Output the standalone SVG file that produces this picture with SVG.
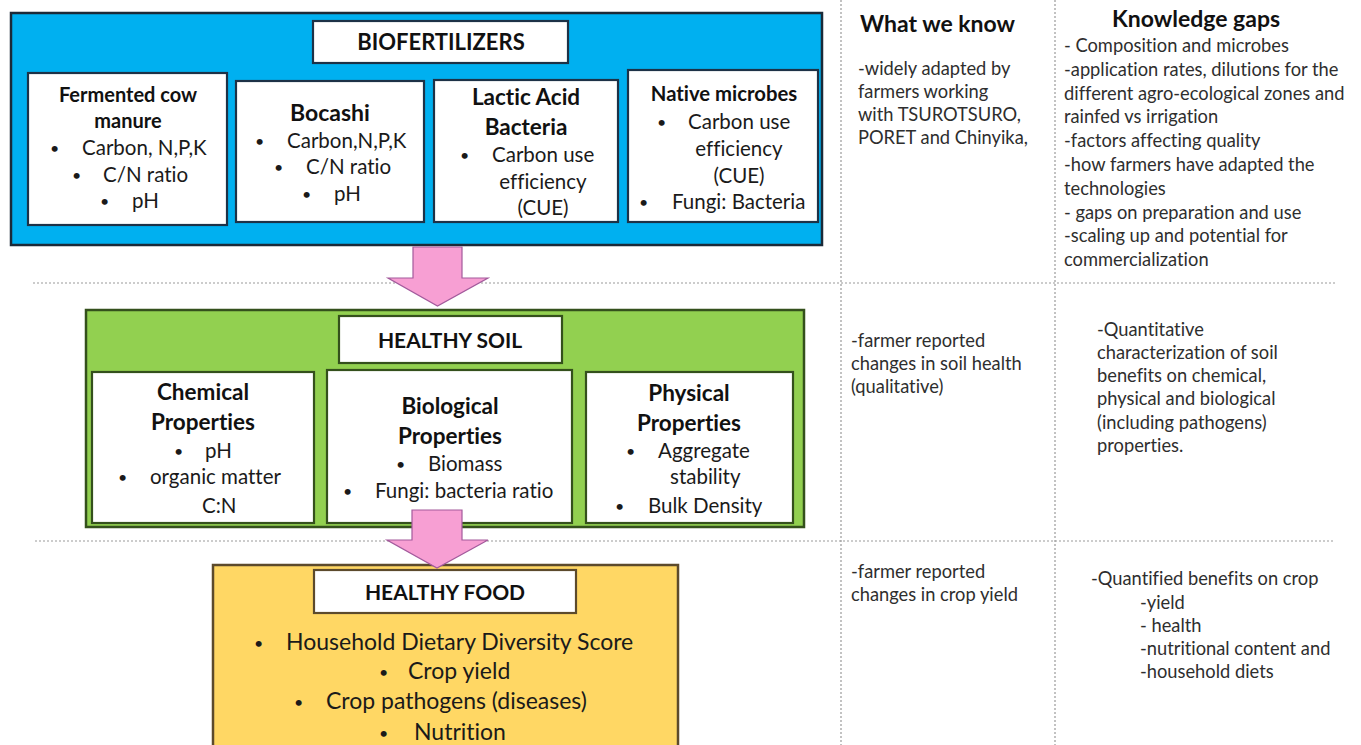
<svg xmlns="http://www.w3.org/2000/svg" width="1361" height="745" viewBox="0 0 1361 745">
<style>
text{font-family:Lato,"Liberation Sans",sans-serif;fill:#1a1a1a;font-variant-ligatures:none}
.h{font-weight:700;fill:#111}
.c{text-anchor:middle}
.b20{font-size:20.5px}
.bf{font-size:23px}
.dot{font-size:16px}
.s{font-size:18.3px;fill:#2e2e2e}
.hd{font-size:23px;font-weight:700;fill:#111}
.grid{stroke:#9a9a9a;stroke-width:1.2;stroke-dasharray:2 2;fill:none}
.box{fill:#fff;stroke-width:2.2}
.blue{stroke:#1d3247}
.green{stroke:#34501c}
.yel{stroke:#5c4a2c}
.arrow{fill:#f79fd3;stroke:#a35a9c;stroke-width:1.2}
</style>
<rect width="1361" height="745" fill="#fff"/>
<g id="grid">
<line class="grid" x1="841" y1="0" x2="841" y2="745"/>
<line class="grid" x1="1055" y1="0" x2="1055" y2="745"/>
<line class="grid" x1="33" y1="283" x2="1335" y2="283"/>
<line class="grid" x1="35" y1="541" x2="1335" y2="541"/>
</g>
<g id="biofertilizers">
<rect x="11" y="13" width="811" height="232" fill="#00b0f0" stroke="#1b2a38" stroke-width="2.5"/>
<rect class="box blue" x="313" y="21" width="255" height="42"/>
<text class="h c" x="441" y="50" font-size="22">BIOFERTILIZERS</text>
</g>
<g id="fermented-cow-manure">
<rect class="box blue" x="28" y="73" width="199" height="152"/>
<text class="h c" x="128" y="102" font-size="20">Fermented cow</text>
<text class="h c" x="128" y="128" font-size="20">manure</text>
<text class="dot" x="50" y="154">•</text><text class="b20" x="82" y="155">Carbon, N,P,K</text>
<text class="dot" x="72" y="181">•</text><text class="b20" x="103" y="182">C/N ratio</text>
<text class="dot" x="100" y="207">•</text><text class="b20" x="132" y="208">pH</text>
</g>
<g id="bocashi">
<rect class="box blue" x="236" y="81" width="188" height="141"/>
<text class="h c" x="330" y="121" font-size="23">Bocashi</text>
<text class="dot" x="255" y="147">•</text><text class="b20" x="287" y="148">Carbon,N,P,K</text>
<text class="dot" x="274" y="173">•</text><text class="b20" x="306" y="174">C/N ratio</text>
<text class="dot" x="302" y="200">•</text><text class="b20" x="334" y="201">pH</text>
</g>
<g id="lactic-acid-bacteria">
<rect class="box blue" x="434" y="80" width="184" height="142"/>
<text class="h c" x="526" y="105" font-size="22.5">Lactic Acid</text>
<text class="h c" x="526" y="135" font-size="22.5">Bacteria</text>
<text class="dot" x="460" y="161">•</text><text class="b20" x="492" y="162">Carbon use</text>
<text class="b20 c" x="543" y="189">efficiency</text>
<text class="b20 c" x="543" y="215">(CUE)</text>
</g>
<g id="native-microbes">
<rect class="box blue" x="628" y="70" width="190" height="152"/>
<text class="h c" x="724" y="101" font-size="20.3">Native microbes</text>
<text class="dot" x="657" y="128">•</text><text class="b20" x="688" y="129">Carbon use</text>
<text class="b20 c" x="739" y="156">efficiency</text>
<text class="b20 c" x="739" y="183">(CUE)</text>
<text class="dot" x="639" y="208">•</text><text class="b20" x="672" y="209">Fungi: Bacteria</text>
</g>
<g id="healthy-soil">
<rect x="86" y="310" width="718" height="217" fill="#92d050" stroke="#34501c" stroke-width="2.5"/>
<rect class="box green" x="339" y="316" width="223" height="47"/>
<text class="h c" x="450" y="348" font-size="21">HEALTHY SOIL</text>
</g>
<g id="chemical-properties">
<rect class="box green" x="92" y="372" width="222" height="151"/>
<text class="h c" x="203" y="400" font-size="22.5">Chemical</text>
<text class="h c" x="203" y="430" font-size="22.5">Properties</text>
<text class="dot" x="174" y="457">•</text><text class="b20" x="205" y="458">pH</text>
<text class="dot" x="118" y="483">•</text><text class="b20" x="150" y="484">organic matter</text>
<text class="b20" x="202" y="513">C:N</text>
</g>
<g id="biological-properties">
<rect class="box green" x="327" y="370" width="245" height="153"/>
<text class="h c" x="450" y="414" font-size="22.5">Biological</text>
<text class="h c" x="450" y="444" font-size="22.5">Properties</text>
<text class="dot" x="396" y="470">•</text><text class="b20" x="428" y="471">Biomass</text>
<text class="dot" x="343" y="497">•</text><text class="b20" x="375" y="498">Fungi: bacteria ratio</text>
</g>
<g id="physical-properties">
<rect class="box green" x="586" y="372" width="207" height="151"/>
<text class="h c" x="689" y="401" font-size="22.5">Physical</text>
<text class="h c" x="689" y="431" font-size="22.5">Properties</text>
<text class="dot" x="626" y="457">•</text><text class="b20" x="658" y="458">Aggregate</text>
<text class="b20" x="670" y="484">stability</text>
<text class="dot" x="615" y="512">•</text><text class="b20" x="648" y="513">Bulk Density</text>
</g>
<g id="healthy-food">
<rect x="213" y="565" width="465" height="190" fill="#ffd764" stroke="#5c4a2c" stroke-width="2.5"/>
<rect class="box yel" x="314" y="570" width="262" height="43"/>
<text class="h c" x="445" y="600" font-size="21">HEALTHY FOOD</text>
<text class="dot" x="254" y="649" font-size="18">•</text><text class="bf" x="286" y="650">Household Dietary Diversity Score</text>
<text class="dot" x="379" y="678" font-size="18">•</text><text class="bf" x="408" y="679">Crop yield</text>
<text class="dot" x="294" y="708" font-size="18">•</text><text class="bf" x="326" y="709">Crop pathogens (diseases)</text>
<text class="dot" x="379" y="739" font-size="18">•</text><text class="bf" x="414" y="740">Nutrition</text>
</g>
<g id="connectors">
<polygon class="arrow" points="413,247 462,247 462,278 488,278 437.5,306 388,278 413,278"/>
<polygon class="arrow" points="412,510 462,510 462,540 488,540 437,568 387,540 412,540"/>
</g>
<g id="what-we-know">
<text class="hd" x="860" y="32">What we know</text>
<text class="s" x="858" y="75">-widely adapted by</text>
<text class="s" x="858" y="98">farmers working</text>
<text class="s" x="858" y="121">with TSUROTSURO,</text>
<text class="s" x="858" y="144">PORET and Chinyika,</text>
<text class="s" x="851" y="347">-farmer reported</text>
<text class="s" x="851" y="370">changes in soil health</text>
<text class="s" x="851" y="393">(qualitative)</text>
<text class="s" x="851" y="578">-farmer reported</text>
<text class="s" x="851" y="601">changes in crop yield</text>
</g>
<g id="knowledge-gaps">
<text class="hd" x="1112" y="27">Knowledge gaps</text>
<text class="s" x="1064" y="52">- Composition and microbes</text>
<text class="s" x="1064" y="76">-application rates, dilutions for the</text>
<text class="s" x="1064" y="100">different agro-ecological zones and</text>
<text class="s" x="1064" y="123">rainfed vs irrigation</text>
<text class="s" x="1064" y="147">-factors affecting quality</text>
<text class="s" x="1064" y="171">-how farmers have adapted the</text>
<text class="s" x="1064" y="195">technologies</text>
<text class="s" x="1064" y="219">- gaps on preparation and use</text>
<text class="s" x="1064" y="242">-scaling up and potential for</text>
<text class="s" x="1064" y="266">commercialization</text>
<text class="s" x="1097" y="336">-Quantitative</text>
<text class="s" x="1097" y="359">characterization of soil</text>
<text class="s" x="1097" y="382">benefits on  chemical,</text>
<text class="s" x="1097" y="405">physical and biological</text>
<text class="s" x="1097" y="429">(including pathogens)</text>
<text class="s" x="1097" y="452">properties.</text>
<text class="s" x="1091" y="585">-Quantified benefits on crop</text>
<text class="s" x="1140" y="609">-yield</text>
<text class="s" x="1140" y="632">- health</text>
<text class="s" x="1140" y="655">-nutritional content and</text>
<text class="s" x="1140" y="678">-household diets</text>
</g>
</svg>
